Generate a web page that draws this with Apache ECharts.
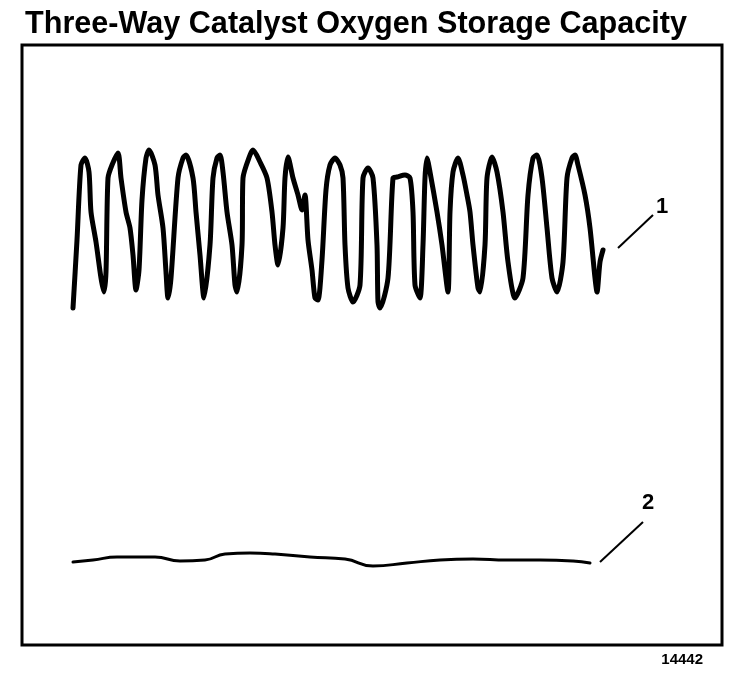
<!DOCTYPE html>
<html>
<head>
<meta charset="utf-8">
<script src="https://cdn.jsdelivr.net/npm/echarts@6/dist/echarts.min.js"></script>
<style>
html,body{margin:0;padding:0;background:#fff;}
#chart{width:752px;height:684px;}
</style>
</head>
<body>
<div id="chart"></div>
<script>
// Trace 1: upstream sensor (time s, volts)
var trace1Time = [5.1,5.5,5.9,6.3,6.7,6.9,7.4,7.9,8.2,8.4,8.6,9.0,9.6,9.9,10.4,10.8,11.1,11.4,11.7,12.0,12.4,12.7,13.3,13.6,14.1,14.4,14.6,14.9,15.6,16.1,16.4,17.1,17.4,17.8,18.2,18.8,19.1,19.5,19.8,20.1,20.5,21.0,21.3,21.5,22.0,22.1,22.8,23.1,23.8,24.5,25.0,25.3,25.6,26.1,26.3,26.6,27.1,27.6,28.0,28.3,28.6,29.0,29.3,29.6,30.0,30.4,30.8,31.3,31.8,32.1,32.3,32.6,33.1,33.8,34.1,34.6,35.1,35.5,35.6,35.8,36.6,37.1,37.5,38.3,38.8,39.1,39.3,39.8,40.1,40.3,40.5,40.8,41.5,42.0,42.6,42.8,43.1,43.6,44.1,44.5,44.8,45.1,45.6,45.8,46.3,46.5,47.0,47.5,48.1,48.6,49.3,50.1,50.6,51.1,51.5,52.0,52.5,53.0,53.5,54.1,54.5,55.0,55.3,55.6,56.3,56.8,57.3,57.5,57.8,58.1];
var trace1Volts = [0.674,0.81,0.96,0.974,0.946,0.866,0.806,0.734,0.706,0.746,0.934,0.96,0.984,0.934,0.866,0.834,0.78,0.71,0.75,0.89,0.974,0.99,0.96,0.90,0.834,0.746,0.694,0.734,0.934,0.974,0.98,0.934,0.866,0.78,0.694,0.80,0.934,0.974,0.98,0.946,0.866,0.80,0.72,0.706,0.80,0.934,0.98,0.99,0.966,0.934,0.866,0.80,0.76,0.834,0.934,0.976,0.934,0.90,0.87,0.90,0.81,0.75,0.694,0.69,0.77,0.91,0.96,0.974,0.96,0.934,0.80,0.714,0.686,0.72,0.934,0.954,0.934,0.80,0.686,0.674,0.734,0.934,0.936,0.94,0.934,0.866,0.72,0.694,0.80,0.934,0.974,0.946,0.866,0.80,0.706,0.866,0.946,0.974,0.94,0.90,0.866,0.80,0.714,0.706,0.80,0.934,0.976,0.946,0.866,0.766,0.694,0.734,0.90,0.974,0.98,0.934,0.834,0.734,0.706,0.766,0.934,0.974,0.98,0.96,0.90,0.834,0.734,0.706,0.766,0.79];

// Trace 2: downstream sensor
var trace2Time = [5.1,7.1,9.5,13.3,15.8,18.3,20.3,22.8,25.3,28.8,32.3,35.1,38.5,41.8,45.1,48.5,51.8,55.1,56.8];
var trace2Volts = [0.166,0.170,0.176,0.176,0.168,0.170,0.182,0.184,0.182,0.176,0.172,0.158,0.164,0.170,0.172,0.170,0.170,0.168,0.164];

// Callout labels and leader lines
var calloutNames = ["1","2"];
var leader1Time = [59.6,63.1], leader1Volts = [0.794,0.86];
var leader2Time = [57.8,62.1], leader2Volts = [0.166,0.246];
var labelTime = [64.0,62.6], labelVolts = [0.876,0.284];

var titleText = "Three-Way Catalyst Oxygen Storage Capacity";
var figureNumber = "14442";

function zip(a,b){return a.map(function(v,i){return [v,b[i]];});}

var chart = echarts.init(document.getElementById('chart'), null, {renderer:'canvas'});
chart.setOption({
  animation:false,
  backgroundColor:'#fff',
  title:[{
    text:titleText, left:20, top:4,
    textStyle:{fontFamily:'Liberation Sans', fontWeight:'bold', fontSize:30.6, color:'#000'}
  },{
    text:figureNumber, right:44, bottom:12,
    textStyle:{fontFamily:'Liberation Sans', fontWeight:'bold', fontSize:15, color:'#000'}
  }],
  grid:{left:22, top:45, width:700, height:600, show:true, borderColor:'#000', borderWidth:3, backgroundColor:'transparent'},
  xAxis:{type:'value', min:0, max:70, show:false},
  yAxis:{type:'value', min:0, max:1.2, show:false},
  series:[
    {type:'line', data:zip(trace1Time,trace1Volts), symbol:'none', smooth:0.25,
     lineStyle:{color:'#000', width:5, join:'round', cap:'round'}},
    {type:'line', data:zip(trace2Time,trace2Volts), symbol:'none', smooth:0.5,
     lineStyle:{color:'#000', width:3, cap:'round'}},
    {type:'line', data:zip(leader1Time,leader1Volts), symbol:'none', lineStyle:{color:'#000', width:2}},
    {type:'line', data:zip(leader2Time,leader2Volts), symbol:'none', lineStyle:{color:'#000', width:2}},
    {type:'scatter', symbolSize:0, itemStyle:{opacity:1},
     data:labelTime.map(function(t,i){return {value:[t,labelVolts[i]], name:calloutNames[i]};}),
     label:{show:true, position:'inside', formatter:'{b}', color:'#000', opacity:1, fontFamily:'Liberation Sans', fontWeight:'bold', fontSize:22}}
  ]
});
</script>
</body>
</html>
